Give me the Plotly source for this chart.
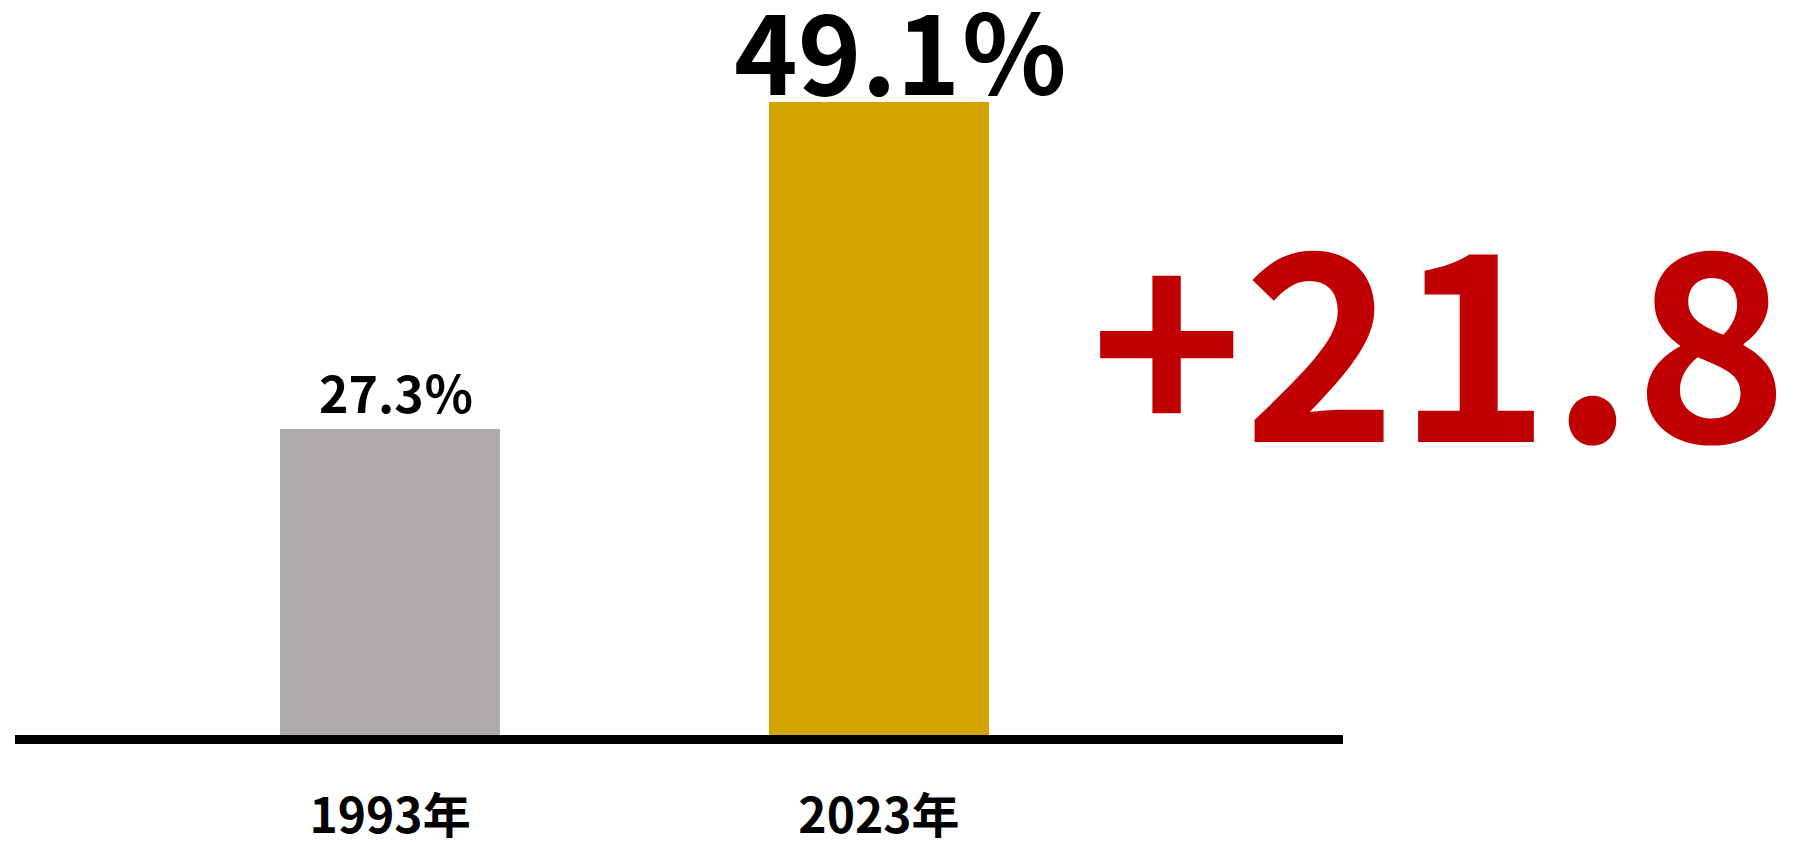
import plotly.graph_objects as go

categories = ["1993年", "2023年"]
values = [27.3, 49.1]
value_labels = ["27.3％", "49.1％"]
bar_colors = ["#AFABAB", "#D4A300"]
label_sizes = [50, 108]
label_xshift = [6, 22]
label_yshift = [0, -26]
diff_label = "+21.8"

FONT = "Noto Sans CJK JP, Noto Sans, sans-serif"

fig = go.Figure()
fig.add_trace(go.Bar(
    x=categories, y=values, width=0.45,
    marker=dict(color=bar_colors, line=dict(width=0)),
    hoverinfo="skip",
))

for cat, v, lab, sz, xs, ys in zip(categories, values, value_labels,
                                    label_sizes, label_xshift, label_yshift):
    fig.add_annotation(
        x=cat, y=v, xref="x", yref="y", text=lab, showarrow=False,
        yanchor="bottom", xanchor="center",
        yshift=ys, xshift=xs,
        font=dict(family=FONT, size=sz, color="black", weight="bold"),
    )

fig.add_annotation(
    x=1.0723, y=0.553, xref="paper", yref="paper", text=diff_label,
    showarrow=False, xanchor="center", yanchor="middle",
    font=dict(family=FONT, size=260, color="#C00000", weight="bold"),
)

fig.update_layout(
    width=1804, height=842,
    margin=dict(l=15, r=461, t=0, b=107, autoexpand=False),
    paper_bgcolor="white", plot_bgcolor="white",
    showlegend=False,
    bargap=0.55,
)
fig.update_xaxes(
    type="category", range=[-0.767, 1.949], automargin=False,
    showline=True, linewidth=9, linecolor="black",
    showgrid=False, zeroline=False, ticks="",
    tickfont=dict(family=FONT, size=48, color="black", weight="bold"),
    ticklabelstandoff=31,
)
fig.update_yaxes(
    range=[6.9, 55.9], visible=False, showgrid=False, zeroline=False,
    automargin=False,
)

fig.write_html("out.html")
